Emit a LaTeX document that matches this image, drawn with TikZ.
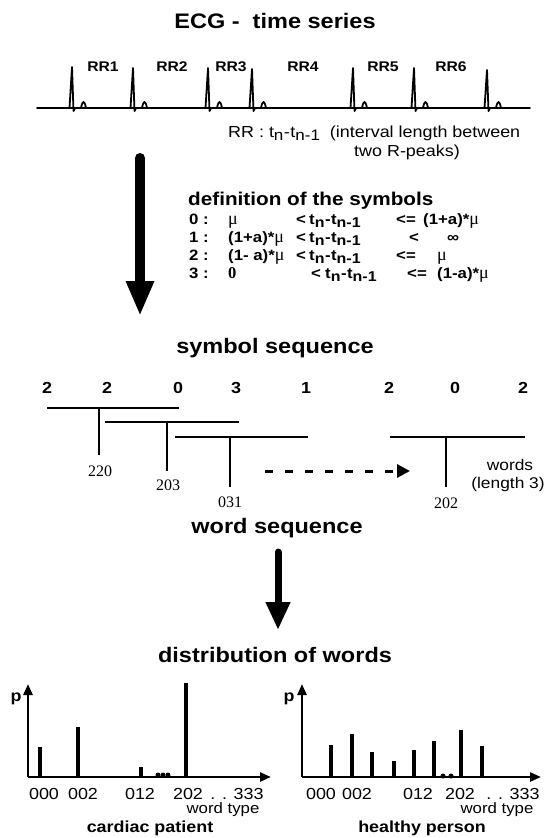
\documentclass[tikz,border=0pt]{standalone}
\usepackage{fontspec}
\usepackage{graphicx}
\setmainfont{Liberation Sans}[FakeStretch=1.12]
\newfontfamily\serifwd{Liberation Serif}
\usetikzlibrary{arrows.meta}
\newcommand{\dn}[1]{\raisebox{-0.4ex}{\scalebox{0.95}{#1}}}
\newcommand{\tdiff}{t\dn{n}\kern0.5pt-\kern0.5pt t\dn{n-1}}
\newcommand{\muu}{\scalebox{1.2}{\serifwd\mdseries μ}}
\begin{document}
\begin{tikzpicture}[x=1pt,y=-1pt,
  ttl/.style={font=\fontsize{21}{24}\selectfont\bfseries, inner sep=0pt, anchor=base},
  deft/.style={font=\fontsize{18.5}{22}\selectfont\bfseries, inner sep=0pt, anchor=base west},
  rr/.style={font=\fontsize{14}{16}\selectfont\bfseries, inner sep=0pt, anchor=base},
  note/.style={font=\fontsize{16}{18}\selectfont, inner sep=0pt, anchor=base},
  sym/.style={font=\fontsize{15}{17}\selectfont\bfseries, inner sep=0pt, anchor=base west},
  dig/.style={font=\fontsize{16}{18}\selectfont\bfseries, inner sep=0pt, anchor=base},
  wrd/.style={font=\serifwd\fontsize{16}{18}\selectfont, inner sep=0pt, anchor=base},
  axl/.style={font=\fontsize{16}{18}\selectfont, inner sep=0pt, anchor=base},
  capt/.style={font=\fontsize{16}{18}\selectfont\bfseries, inner sep=0pt, anchor=base},
  ecg/.style={line width=1.8pt, line join=round, line cap=round},
  wline/.style={line width=2.2pt},
  bigarrow/.style={line width=10pt, line cap=round, -{Triangle[width=26pt,length=35pt]}},
  midarrow/.style={line width=7pt, line cap=round, -{Triangle[width=23pt,length=28pt]}},
  dasharrow/.style={line width=3pt, dash pattern=on 8pt off 12pt, -{Triangle[width=13pt,length=13pt]}},
  axisline/.style={line width=2.5pt, -{Triangle[width=9pt,length=11pt]}},
  bar/.style={line width=3.5pt},
  dotmark/.style={circle, fill, inner sep=0pt, minimum size=5pt}
]
\useasboundingbox (0,0) rectangle (550,838);

% ---------- ECG ----------
\node[ttl] (title) at (275,28) {ECG -\ \ time series};
\coordinate (ecgL) at (37,108);
\coordinate (ecgR) at (530,108);
\draw[ecg] (ecgL) -- (ecgR);
\foreach \p/\t in {72/67,133/68,208/68,252/69,353/68,414/68,487/70}
  \draw[ecg] ({\p-2.5},108) -- (\p,\t) -- ({\p+1.5},111) -- ({\p+3},108)
    ({\p+9},108) .. controls ({\p+10.5},100) and ({\p+12.5},100) .. ({\p+14},108);
\foreach \x/\n in {103/1,172/2,231/3,303/4,383/5,451/6}
  \node[rr] (rr\n) at (\x,71) {RR\n};
\node[note, anchor=base west] (note1) at (228,137) {RR : \tdiff\ \ (interval length between};
\node[note] (note2) at (407,156) {two R-peaks)};

% ---------- big arrow 1 ----------
\coordinate (a1s) at (140,158);
\coordinate (a1e) at (140,316);
\draw[bigarrow] (a1s) -- (a1e);

% ---------- definition table ----------
\node[deft] (deft) at (188,205) {definition of the symbols};
\node[sym] (r0a) at (189,224) {0 :};
\node[sym] (r0b) at (228,224) {\muu};
\node[sym] (r0c) at (296,224) {<};
\node[sym] (r0d) at (309,224) {\tdiff};
\node[sym] (r0e) at (396,224) {<=};
\node[sym] (r0f) at (423,224) {(1+a)*\muu};

\node[sym] (r1a) at (189,242) {1 :};
\node[sym] (r1b) at (228,242) {(1+a)*\muu};
\node[sym] (r1c) at (296,242) {<};
\node[sym] (r1d) at (309,242) {\tdiff};
\node[sym] (r1e) at (409,242) {<};
\node[sym] (r1f) at (447,242) {∞};

\node[sym] (r2a) at (189,260) {2 :};
\node[sym] (r2b) at (228,260) {(1- a)*\muu};
\node[sym] (r2c) at (296,260) {<};
\node[sym] (r2d) at (309,260) {\tdiff};
\node[sym] (r2e) at (396,260) {<=};
\node[sym] (r2f) at (437,260) {\muu};

\node[sym] (r3a) at (189,278) {3 :};
\node[sym] (r3b) at (228,278) {\scalebox{1.1}{\serifwd 0}};
\node[sym] (r3c) at (311,278) {<};
\node[sym] (r3d) at (325,278) {\tdiff};
\node[sym] (r3e) at (407,278) {<=};
\node[sym] (r3f) at (437,278) {(1-a)*\muu};

% ---------- symbol sequence ----------
\node[ttl] (symseq) at (275,353) {symbol sequence};
\foreach \x/\d [count=\i] in {47/2,107/2,178/0,236/3,306/1,389/2,455/0,523/2}
  \node[dig] (s\i) at (\x,393) {\d};

\coordinate (l1a) at (47,408);  \coordinate (l1b) at (179,408);
\coordinate (l2a) at (105,422); \coordinate (l2b) at (239,422);
\coordinate (l3a) at (175,437); \coordinate (l3b) at (308,437);
\coordinate (l4a) at (390,437); \coordinate (l4b) at (525,437);
\draw[wline] (l1a) -- (l1b);
\draw[wline] (l2a) -- (l2b);
\draw[wline] (l3a) -- (l3b);
\draw[wline] (l4a) -- (l4b);
\coordinate (t1) at (99,408);  \coordinate (b1) at (99,455);
\coordinate (t2) at (167,422); \coordinate (b2) at (167,471);
\coordinate (t3) at (230,437); \coordinate (b3) at (230,487);
\coordinate (t4) at (446,437); \coordinate (b4) at (446,487);
\draw[wline] (t1) -- (b1);
\draw[wline] (t2) -- (b2);
\draw[wline] (t3) -- (b3);
\draw[wline] (t4) -- (b4);
\node[wrd] (w1) at (100,476) {220};
\node[wrd] (w2) at (168,490) {203};
\node[wrd] (w3) at (230,507) {031};
\node[wrd] (w4) at (446,508) {202};
\coordinate (da) at (265,471);
\coordinate (db) at (410,471);
\draw[dasharrow] (da) -- (db);
\node[axl, font=\fontsize{15.5}{17}\selectfont] (wordsl) at (510,470) {words};
\node[axl, font=\fontsize{15.5}{17}\selectfont] (lenl) at (508,488) {(length 3)};

% ---------- word sequence ----------
\node[ttl] (wordseq) at (277,533) {word sequence};
\coordinate (a2s) at (278,552);
\coordinate (a2e) at (278,630);
\draw[midarrow] (a2s) -- (a2e);
\node[ttl] (dist) at (275,662) {distribution of words};

% ---------- left plot ----------
\coordinate (o1) at (28,777);
\coordinate (y1) at (28,684);
\coordinate (x1) at (271,777);
\draw[axisline] (o1) -- (y1);
\draw[axisline] (o1) -- (x1);
\node[capt] (p1) at (16,701) {p};
\foreach \x/\h [count=\i] in {40/747,78/727,141/767,186/683}
  \draw[bar] (\x,777) -- (\x,\h) coordinate (lb\i);
\node[dotmark] (ld1) at (158,775) {};
\node[dotmark] (ld2) at (163,775) {};
\node[dotmark] (ld3) at (168,775) {};
\node[axl] (ll1) at (44,799) {000};
\node[axl] (ll2) at (83,799) {002};
\node[axl] (ll3) at (140,799) {012};
\node[axl] (ll4) at (188,799) {202};
\node[axl] (ll5) at (237,799) {. . 333};
\node[axl, font=\fontsize{15}{17}\selectfont] (lwt) at (223,813) {word type};
\node[capt] (lcap) at (150,832) {cardiac patient};

% ---------- right plot ----------
\coordinate (o2) at (302,777);
\coordinate (y2) at (302,684);
\coordinate (x2) at (541,777);
\draw[axisline] (o2) -- (y2);
\draw[axisline] (o2) -- (x2);
\node[capt] (p2) at (289,701) {p};
\foreach \x/\h [count=\i] in {331/745,352/734,372/752,394/761,414/750,434/741,461/730,482/746}
  \draw[bar] (\x,777) -- (\x,\h) coordinate (rb\i);
\node[dotmark] (rd1) at (443,776) {};
\node[dotmark] (rd2) at (451,776) {};
\node[axl] (rl1) at (321,799) {000};
\node[axl] (rl2) at (357,799) {002};
\node[axl] (rl3) at (418,799) {012};
\node[axl] (rl4) at (460,799) {202};
\node[axl] (rl5) at (513,799) {. . 333};
\node[axl, font=\fontsize{15}{17}\selectfont] (rwt) at (497,813) {word type};
\node[capt] (rcap) at (422,832) {healthy person};
\end{tikzpicture}
\end{document}
